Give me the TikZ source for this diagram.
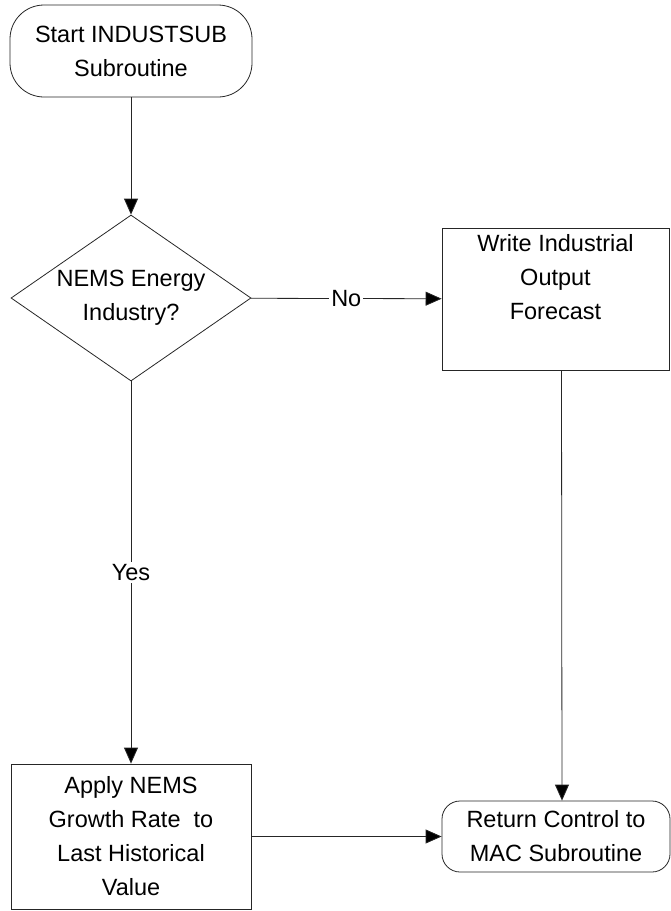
\documentclass[tikz,border=0pt]{standalone}
\usepackage{fontspec}
\setmainfont{Liberation Sans}
\usetikzlibrary{arrows.meta,positioning}
\usetikzlibrary{shapes.geometric}

\begin{document}
\begin{tikzpicture}[x=1pt,y=-1pt,
	every node/.style={font=\fontsize{23.5}{34}\selectfont, align=center},
	term/.style={rectangle, draw=black!85, line width=0.8pt, inner sep=0pt},
	proc/.style={rectangle, draw=black!85, line width=0.8pt, inner sep=0pt},
	decide/.style={diamond, draw=black!85, line width=0.8pt, inner sep=0pt, aspect=1.45},
	arr/.style={draw=black!85, line width=0.8pt, -{Triangle[length=16pt,width=14pt,fill=black]}},
	tag/.style={fill=white, inner sep=2pt}]
		\useasboundingbox (0,0) rectangle (671,911);

		\node[term, rounded corners=34pt, minimum width=242pt, minimum height=92pt] (start) at (131,51) {Start INDUSTSUB\\Subroutine};
		\node[decide, minimum width=240pt, minimum height=166pt] (ask) at (131,298) {NEMS Energy\\Industry?};
		\node[proc, minimum width=227pt, minimum height=142pt, text depth=44pt] (write) at (555.5,299) {Write Industrial\\Output \\Forecast};
		\node[proc, minimum width=240pt, minimum height=145pt] (apply) at (131,836.5) {Apply NEMS\\Growth Rate~ to\\Last Historical\\Value};
		\node[term, rounded corners=18pt, minimum width=228pt, minimum height=71pt] (ret) at (556,836.5) {Return Control to\\MAC Subroutine};

		\draw[arr] (start) -- (ask);
		\draw[arr] (ask) -- node[tag] {No} (write);
		\draw[arr] (ask) -- node[tag, pos=0.5] {Yes} (apply);
		\draw[arr] ([xshift=6pt]write.south) -- ([xshift=6pt]ret.north);
		\draw[arr] (apply) -- (ret);
	\end{tikzpicture}
\end{document}
